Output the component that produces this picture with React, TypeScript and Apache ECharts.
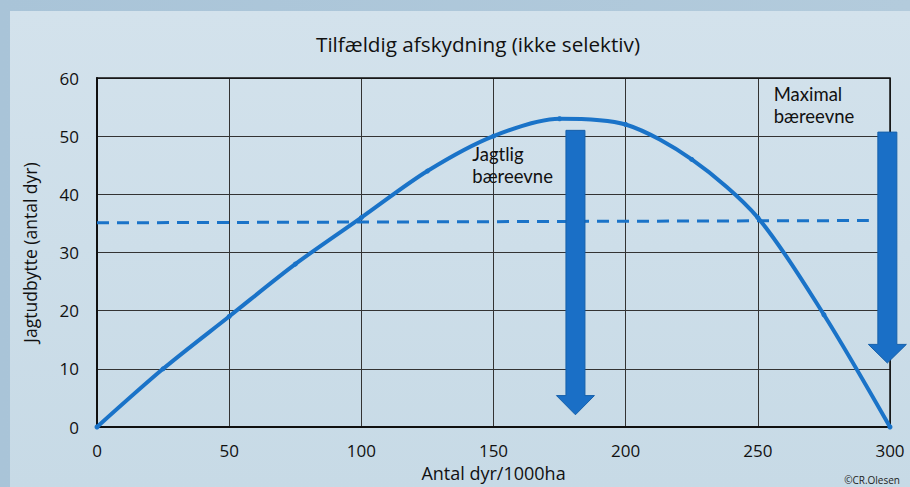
import React, { useEffect, useRef } from "react";
import * as echarts from "echarts";

const xValues = [0, 25, 50, 75, 100, 125, 150, 175, 200, 225, 250, 275, 300];
const yieldValues = [0, 10, 19, 28, 36, 44, 50, 53, 52, 46, 36, 19.3, 0];
const dashedX = [0, 292];
const dashedY = [35.1, 35.5];
const xTicks = [0, 50, 100, 150, 200, 250, 300];
const yTicks = [0, 10, 20, 30, 40, 50, 60];
const arrows = [
  { x: 181, top: 51, headStart: 5.4, tip: 2.1, lines: ["Jagtlig", "bæreevne"], lx: 142, ly: 48.6 },
  { x: 299, top: 50.7, headStart: 14.2, tip: 11, lines: ["Maximal", "bæreevne"], lx: 256, ly: 58.9 },
];

const FONT = "'Open Sans', Lato, sans-serif";
const LABEL_FONT = "Lato, 'Open Sans', sans-serif";
const BLUE = "#1a73c8";

export default function App() {
  const ref = useRef<HTMLDivElement>(null);
  useEffect(() => {
    const chart = echarts.init(ref.current!, undefined, { renderer: "svg" });
    const option: any = {
      animation: false,
      backgroundColor: "transparent",
      title: {
        text: "Tilfældig afskydning (ikke selektiv)",
        left: 311,
        top: 28,
        textStyle: { fontFamily: FONT, fontSize: 20.7, fontWeight: "normal", color: "#111" },
      },
      grid: { left: 97, right: 20, top: 78, bottom: 60, containLabel: false, outerBoundsMode: "none" },
      xAxis: {
        type: "value",
        min: 0,
        max: 300,
        interval: 50,
        name: "Antal dyr/1000ha",
        nameLocation: "middle",
        nameGap: 35,
        nameTextStyle: { fontFamily: FONT, fontSize: 18, color: "#111" },
        axisLine: { lineStyle: { color: "#111", width: 2 } },
        axisTick: { show: false },
        axisLabel: { fontFamily: FONT, fontSize: 17, color: "#111", margin: 15 },
        splitLine: { lineStyle: { color: "#333", width: 1 } },
      },
      yAxis: {
        type: "value",
        min: 0,
        max: 60,
        interval: 10,
        name: "Jagtudbytte (antal dyr)",
        nameLocation: "middle",
        nameGap: 58,
        nameTextStyle: { fontFamily: FONT, fontSize: 17.5, color: "#111" },
        axisLine: { show: true, lineStyle: { color: "#111", width: 2 } },
        axisTick: { show: false },
        axisLabel: { fontFamily: FONT, fontSize: 17, color: "#111", margin: 18 },
        splitLine: { lineStyle: { color: "#333", width: 1 } },
      },
      series: [
        {
          type: "line",
          data: dashedX.map((x, i) => [x, dashedY[i]]),
          showSymbol: false,
          lineStyle: { color: BLUE, width: 3, type: [12, 8] },
          z: 3,
        },
        {
          type: "line",
          data: xValues.map((x, i) => [x, yieldValues[i]]),
          smooth: 0.3,
          symbol: "circle",
          symbolSize: 5,
          itemStyle: { color: BLUE },
          lineStyle: { color: BLUE, width: 4 },
          z: 4,
        },
      ],
    };
    chart.setOption(option);

    const graphics: any[] = [];
    const tl = chart.convertToPixel({ gridIndex: 0 }, [0, 60]);
    const br = chart.convertToPixel({ gridIndex: 0 }, [300, 0]);
    graphics.push({
      type: "rect",
      shape: { x: tl[0], y: tl[1], width: br[0] - tl[0], height: br[1] - tl[1] },
      style: { fill: "none", stroke: "#111", lineWidth: 1.5 },
      z: 1,
    });
    arrows.forEach((a) => {
      const pTop = chart.convertToPixel({ gridIndex: 0 }, [a.x, a.top]);
      const pHead = chart.convertToPixel({ gridIndex: 0 }, [a.x, a.headStart]);
      const pTip = chart.convertToPixel({ gridIndex: 0 }, [a.x, a.tip]);
      const cx = pTop[0];
      const sw = 9.5;
      const hw = 19;
      graphics.push({
        type: "polygon",
        shape: {
          points: [
            [cx - sw, pTop[1]],
            [cx + sw, pTop[1]],
            [cx + sw, pHead[1]],
            [cx + hw, pHead[1]],
            [cx, pTip[1]],
            [cx - hw, pHead[1]],
            [cx - sw, pHead[1]],
          ],
        },
        style: { fill: "#1a6fc6", stroke: "#1660aa", lineWidth: 1 },
        z: 10,
      });
      const pl = chart.convertToPixel({ gridIndex: 0 }, [a.lx, a.ly]);
      a.lines.forEach((line, i) => {
        graphics.push({
          type: "text",
          x: pl[0],
          y: pl[1] + i * 22.5,
          style: {
            text: line,
            font: `18.5px ${LABEL_FONT}`,
            fill: "#111",
            verticalAlign: "top",
          },
          z: 11,
        });
      });
    });
    graphics.push({
      type: "text",
      right: 10,
      bottom: 2,
      style: { text: "©CR.Olesen", font: `10px ${FONT}`, fill: "#222" },
    });
    chart.setOption({ graphic: graphics });
    return () => chart.dispose();
  }, []);

  return (
    <div
      style={{
        position: "fixed",
        left: 0,
        top: 0,
        width: 910,
        height: 487,
        background: "linear-gradient(to right, #a9c4d8, #b3cbdc)",
      }}
    >
      <div
        style={{
          position: "absolute",
          left: 10,
          top: 11,
          right: 0,
          bottom: 0,
          background: "linear-gradient(#d3e2ec, #c7dae6)",
        }}
      />
      <div ref={ref} style={{ position: "absolute", left: 0, top: 0, width: 910, height: 487 }} />
    </div>
  );
}
